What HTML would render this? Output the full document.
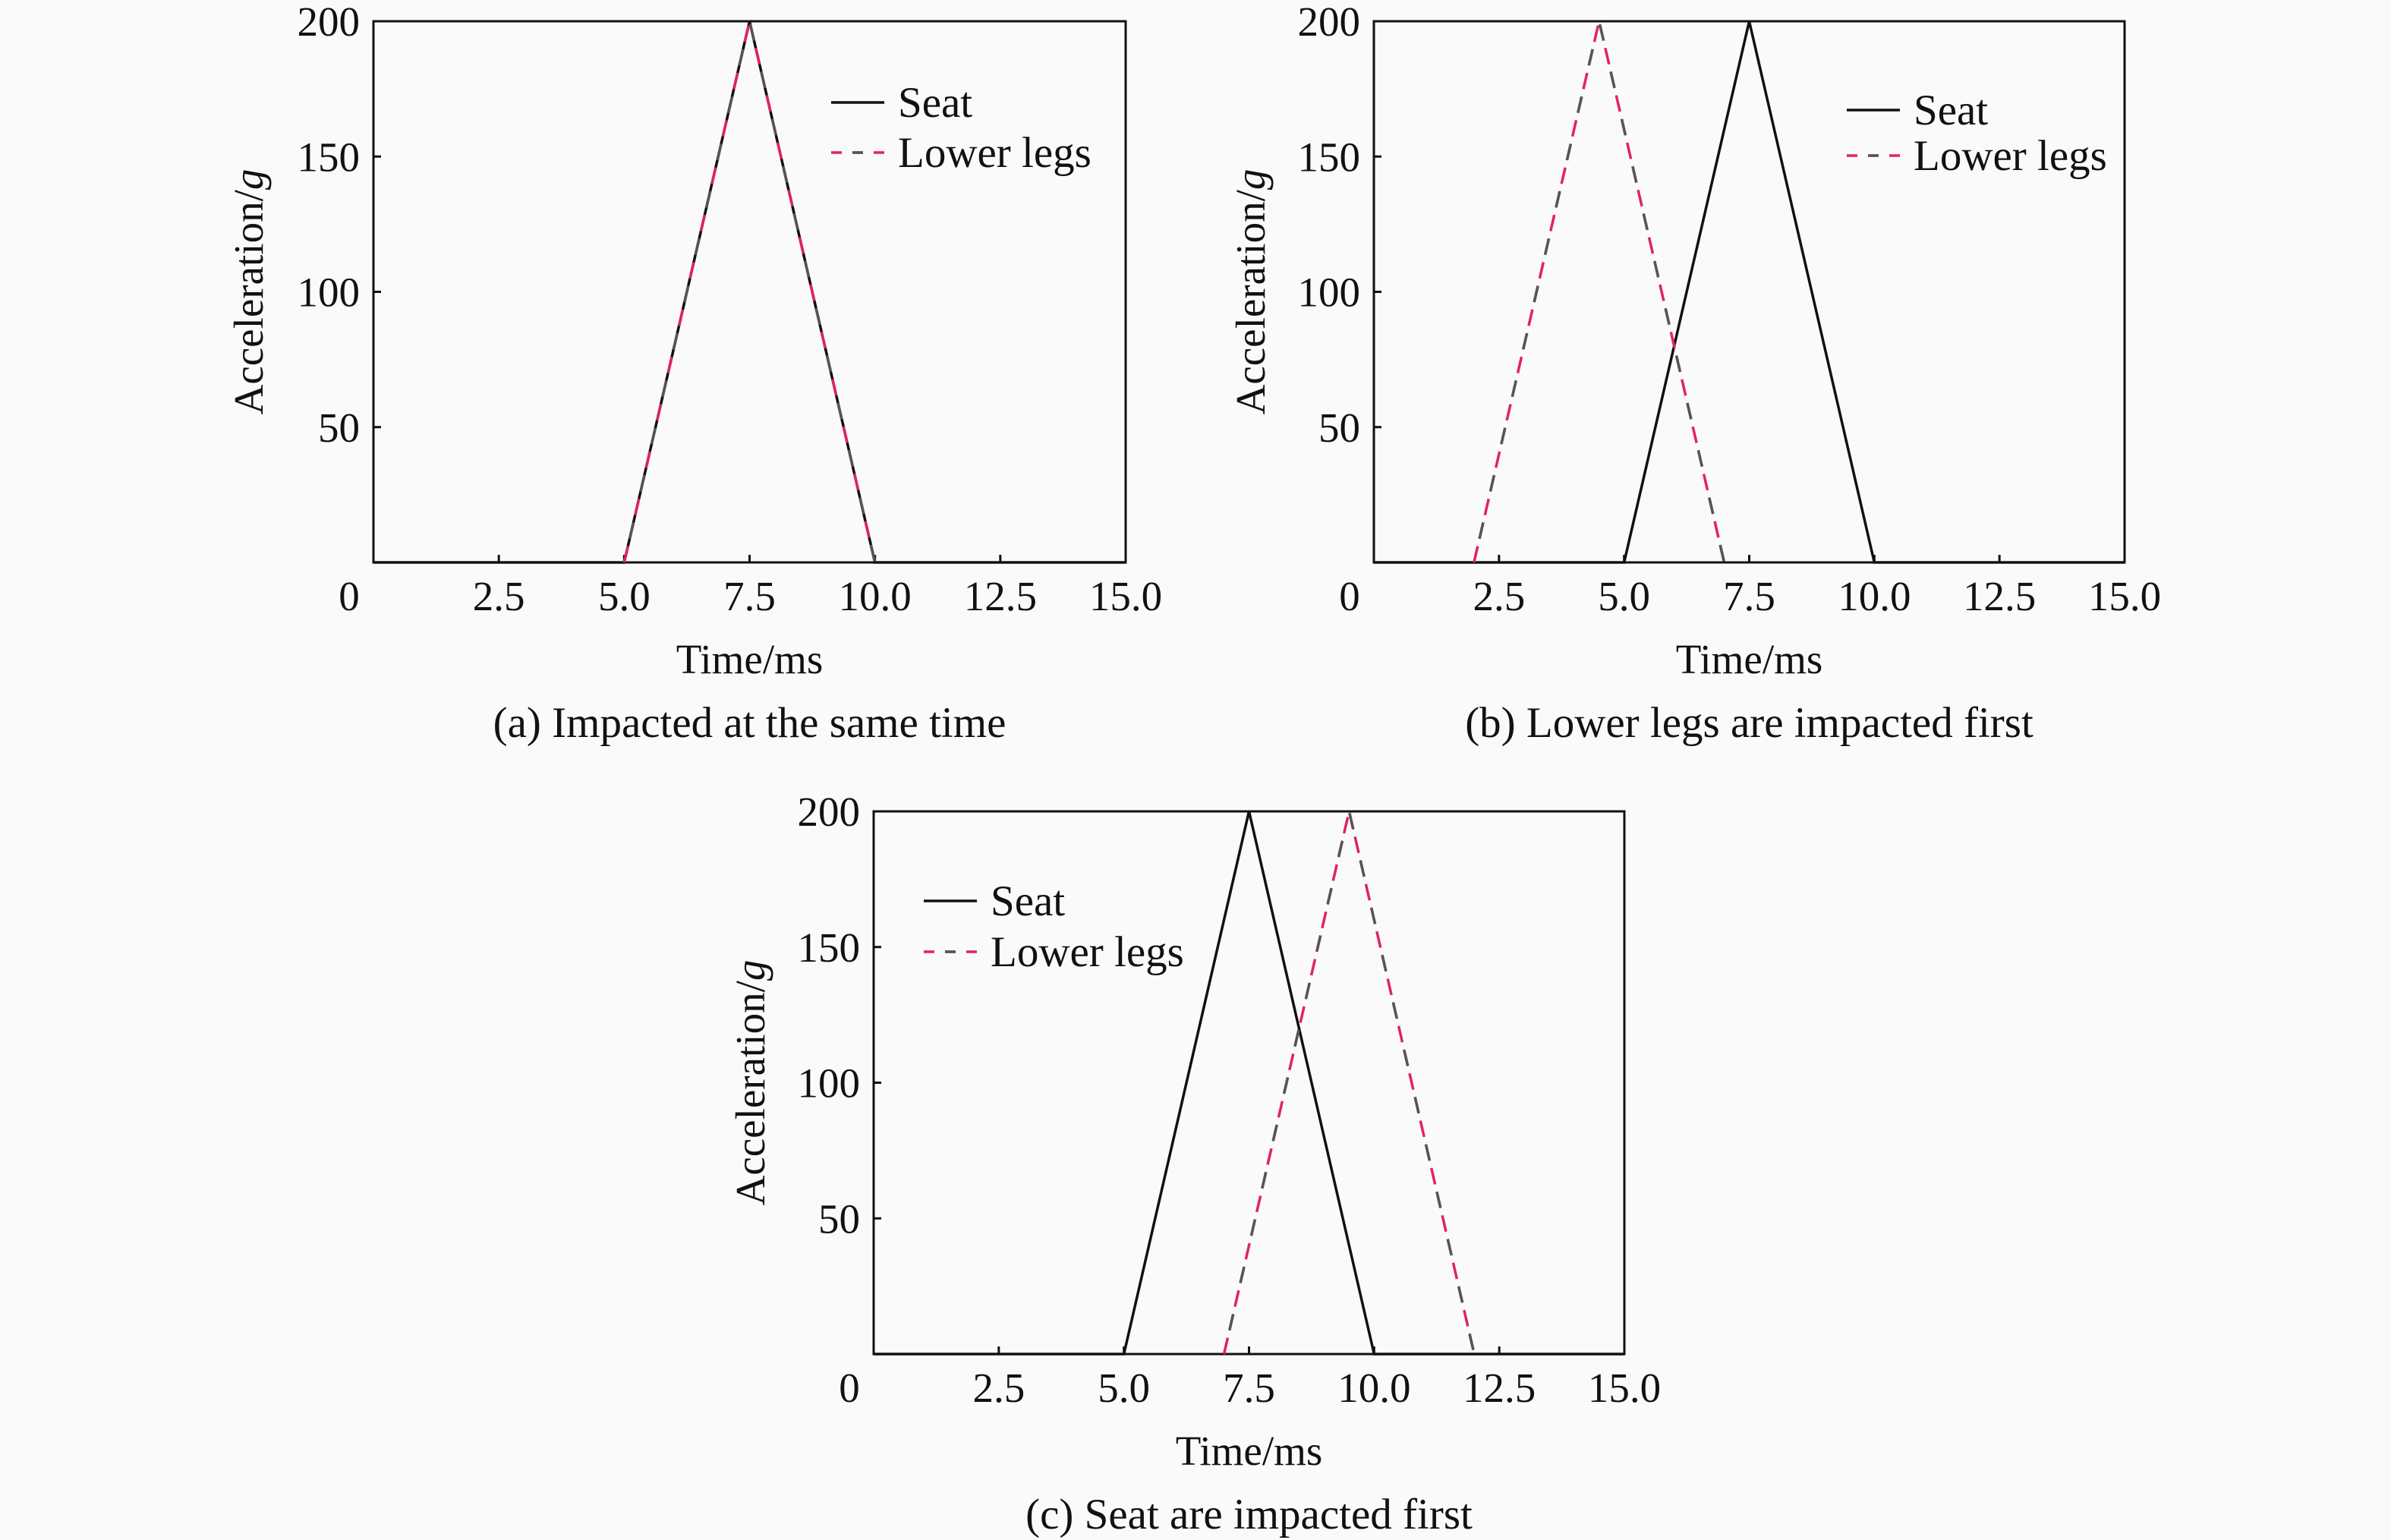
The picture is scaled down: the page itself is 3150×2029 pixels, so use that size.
<!DOCTYPE html>
<html><head><meta charset="utf-8"><style>
html,body{margin:0;padding:0;background:#fafafa;}
svg{display:block;font-family:"Liberation Serif",serif;}
</style></head><body>
<svg id="fig" width="3150" height="2029" viewBox="0 0 3150 2029" xmlns="http://www.w3.org/2000/svg">
<rect width="3150" height="2029" fill="#fafafa"/>
</svg>
<script>
const seatT_a=[0,5,7.5,10,15];
const seatA_a=[0,0,200,0,0];
const legsT_a=[5,7.5,10];
const legsA_a=[0,200,0];
const seatT_b=[0,5,7.5,10,15];
const seatA_b=[0,0,200,0,0];
const legsT_b=[2,4.5,7];
const legsA_b=[0,200,0];
const seatT_c=[0,5,7.5,10,15];
const seatA_c=[0,0,200,0,0];
const legsT_c=[7,9.5,12];
const legsA_c=[0,200,0];
const xTicks=[2.5,5,7.5,10,12.5,15];
const xTickLabels=["2.5","5.0","7.5","10.0","12.5","15.0"];
const yTicks=[50,100,150,200];
const yTickLabels=["50","100","150","200"];
const captions=["(a) Impacted at the same time","(b) Lower legs are impacted first","(c) Seat are impacted first"];

const NS="http://www.w3.org/2000/svg";
const svg=document.getElementById('fig');
function mk(tag,attrs,parent){const e=document.createElementNS(NS,tag);for(const k in attrs)e.setAttribute(k,attrs[k]);(parent||svg).appendChild(e);return e;}

const panels=[
 {id:'a',L:492,R:1483,T:28,B:741,seat:[seatT_a,seatA_a],legs:[legsT_a,legsA_a],leg:{x:1095,y1:135,y2:201},ytx:327,cap:captions[0]},
 {id:'b',L:1810,R:2799,T:28,B:741,seat:[seatT_b,seatA_b],legs:[legsT_b,legsA_b],leg:{x:2433,y1:145,y2:205},ytx:1647,cap:captions[1]},
 {id:'c',L:1151,R:2140,T:1069,B:1784,seat:[seatT_c,seatA_c],legs:[legsT_c,legsA_c],leg:{x:1217,y1:1187,y2:1254},ytx:988,cap:captions[2]}
];
panels.forEach(p=>{
 const g=mk('g',{});
 
 
 const xs=v=>p.L+(v/15)*(p.R-p.L);
 const ys=v=>p.B-(v/200)*(p.B-p.T);
 const fr=mk('rect',{x:p.L,y:p.T,width:p.R-p.L,height:p.B-p.T,fill:'none',stroke:'#111','stroke-width':3},g);
 
 
 xTicks.forEach((t,i)=>{
  const tk=mk('line',{x1:xs(t),x2:xs(t),y1:p.B,y2:p.B-10,stroke:'#111','stroke-width':3},g);
  
  
  const tx=mk('text',{x:xs(t),y:p.B+63,'font-size':55,'text-anchor':'middle',fill:'#111'},g);
  tx.textContent=xTickLabels[i];
  
  
 });
 const z=mk('text',{x:p.L-32,y:p.B+63,'font-size':55,'text-anchor':'middle',fill:'#111'},g);
 z.textContent="0";
 
 
 yTicks.forEach((t,i)=>{
  const tk=mk('line',{x1:p.L,x2:p.L+10,y1:ys(t),y2:ys(t),stroke:'#111','stroke-width':3},g);
  
  
  const tx=mk('text',{x:p.L-18,y:ys(t)+19,'font-size':55,'text-anchor':'end',fill:'#111'},g);
  tx.textContent=yTickLabels[i];
  
  
 });
 const xt=mk('text',{x:(p.L+p.R)/2,y:p.B+146,'font-size':55,'text-anchor':'middle',fill:'#111'},g);
 xt.textContent="Time/ms";
 
 
 const yc=(p.T+p.B)/2;
 const yt=mk('text',{x:p.ytx,y:yc,'font-size':55,'text-anchor':'middle',fill:'#111',transform:`rotate(-90 ${p.ytx} ${yc})`,dy:19},g);
 yt.innerHTML='Acceleration/<tspan font-style="italic">g</tspan>';
 
 
 const cp=mk('text',{x:(p.L+p.R)/2,y:p.B+230,'font-size':57,'text-anchor':'middle',fill:'#111'},g);
 cp.textContent=p.cap;
 
 
 const pts=(T,A)=>T.map((t,i)=>xs(t)+','+ys(A[i])).join(' ');
 const s=mk('polyline',{points:pts(p.seat[0],p.seat[1]),fill:'none',stroke:'#111','stroke-width':3.5},g);
 
 
 const l1=mk('polyline',{points:pts(p.legs[0],p.legs[1]),fill:'none',stroke:'#e0245e','stroke-width':3.5,'stroke-dasharray':'22 10'},g);
 
 
 const l2=mk('polyline',{points:pts(p.legs[0],p.legs[1]),fill:'none',stroke:'#555','stroke-width':3.5,'stroke-dasharray':'22 42','stroke-dashoffset':'-32'},g);
 
 
 const lg=mk('g',{},g);
 
 
 mk('line',{x1:p.leg.x,x2:p.leg.x+70,y1:p.leg.y1,y2:p.leg.y1,stroke:'#111','stroke-width':3.5},lg);
 mk('line',{x1:p.leg.x,x2:p.leg.x+70,y1:p.leg.y2,y2:p.leg.y2,stroke:'#e0245e','stroke-width':3.5,'stroke-dasharray':'14 14'},lg);
 mk('line',{x1:p.leg.x+28,x2:p.leg.x+42,y1:p.leg.y2,y2:p.leg.y2,stroke:'#555','stroke-width':3.5},lg);
 const t1=mk('text',{x:p.leg.x+88,y:p.leg.y1+19,'font-size':57,fill:'#111'},lg);
 t1.textContent="Seat";
 
 
 const t2=mk('text',{x:p.leg.x+88,y:p.leg.y2+19,'font-size':57,fill:'#111'},lg);
 t2.textContent="Lower legs";
 
 
});
</script>
</body></html>
